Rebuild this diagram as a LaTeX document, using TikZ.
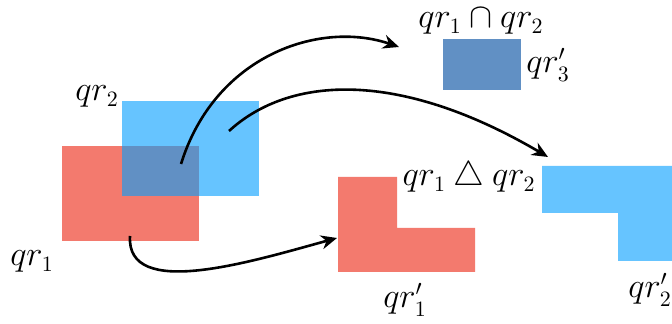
\documentclass[tikz,border=0pt]{standalone}
\usepackage{amssymb}
\usetikzlibrary{arrows.meta}
\definecolor{setred}{RGB}{243,122,110}
\definecolor{setblue}{RGB}{102,196,255}
\definecolor{setmix}{RGB}{97,144,196}
\begin{document}
\begin{tikzpicture}[x=0.5pt, y=-0.5pt, every node/.style={font=\fontsize{16}{19}\selectfont,anchor=base,inner sep=0pt},
  flow/.style={-{Stealth[length=8pt,width=7pt]},line width=1.3pt}]
  \useasboundingbox (0,0) rectangle (672,324);
  % input regions
  \fill[setred] (62,146) rectangle (199,241);
  \fill[setblue] (122,101) rectangle (259,196);
  \fill[setmix] (122,146) rectangle (199,196);
  \node (l1) at (32,266) {$qr_1$};
  \node (l2) at (97,101) {$qr_2$};
  % results
  \fill[setmix] (443,39) rectangle (521,90);
  \fill[setred] (338,177) -- (397,177) -- (397,228) -- (475,228) -- (475,272) -- (338,272) -- cycle;
  \fill[setblue] (542,166) -- (672,166) -- (672,261) -- (618,261) -- (618,213) -- (542,213) -- cycle;
  \node (cap) at (481,28) {$qr_1\cap qr_2$};
  \node (l3p) at (548,73) {$qr_3'$};
  \node (sym) at (469,186) {$qr_1\bigtriangleup qr_2$};
  \node (l1p) at (405,308) {$qr_1'$};
  \node (l2p) at (650,298) {$qr_2'$};
  % arrows
  \coordinate (s3) at (181,164);
  \coordinate (t3) at (399,47);
  \coordinate (s2) at (229,131);
  \coordinate (t2) at (548,157);
  \coordinate (s1) at (130,236);
  \coordinate (t1) at (337,238);
  \draw[flow] (s3) .. controls (215,55) and (320,20) .. (t3);
  \draw[flow] (s2) .. controls (290,75) and (400,70) .. (t2);
  \draw[flow] (s1) .. controls (126,300) and (250,262) .. (t1);
\end{tikzpicture}
\end{document}
